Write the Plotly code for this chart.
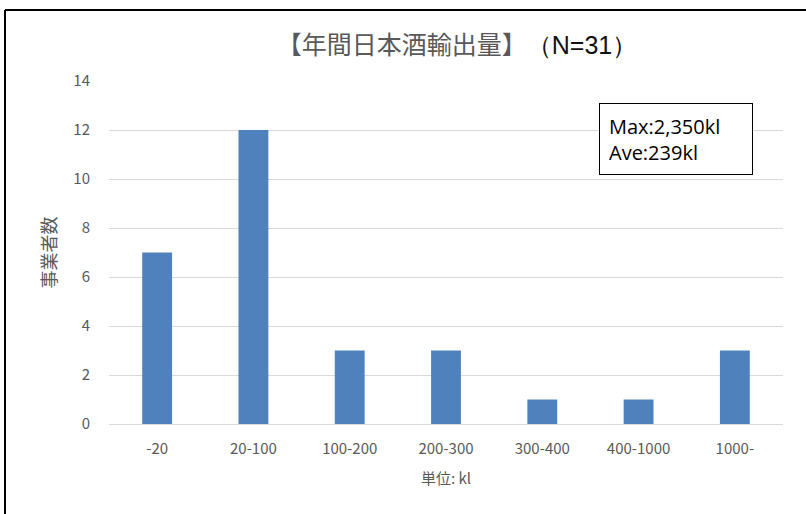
import plotly.graph_objects as go

# 出荷規模別の事業者数
categories = ["-20", "20-100", "100-200", "200-300", "300-400", "400-1000", "1000-"]
counts = [7, 12, 3, 3, 1, 1, 3]

y_ticks = [0, 2, 4, 6, 8, 10, 12, 14]

W, H = 806, 514
ML, MR, MT, MB = 109, 23, 81, 90
PW, PH = W - ML - MR, H - MT - MB

def px_x(x):
    return (x - ML) / PW

def px_y(y):
    return (H - MB - y) / PH

tick_font = dict(family="Noto Sans CJK JP, Noto Sans, sans-serif", size=15, color="#595959")

fig = go.Figure(
    go.Bar(
        x=categories,
        y=counts,
        marker=dict(color="#4F81BD", line=dict(width=0)),
        hoverinfo="x+y",
    )
)

fig.update_layout(
    width=W,
    height=H,
    margin=dict(l=ML, r=MR, t=MT, b=MB),
    paper_bgcolor="white",
    plot_bgcolor="white",
    bargap=0.69,
    showlegend=False,
    title=dict(
        text="<span style='color:#595959'>【年間日本酒輸出量】</span>"
             "<span style='font-family:Liberation Sans, Arial'>（N=31）</span>",
        xref="container",
        yref="container",
        x=457 / W,
        xanchor="center",
        y=1 - 45 / H,
        yanchor="middle",
        font=dict(family="Noto Sans CJK JP, sans-serif", size=25, color="#111111"),
    ),
    xaxis=dict(
        showgrid=False,
        showline=False,
        ticks="",
        ticklabelstandoff=14,
        tickfont=tick_font,
        title=dict(text="単位: kl", font=tick_font, standoff=16),
    ),
    yaxis=dict(
        range=[0, 14],
        tickvals=y_ticks,
        showgrid=True,
        gridcolor="#D9D9D9",
        gridwidth=1,
        zeroline=True,
        zerolinecolor="#D9D9D9",
        zerolinewidth=1,
        showline=False,
        ticks="",
        ticklabelstandoff=18,
        tickfont=tick_font,
        title=dict(
            text="事業者数",
            font=dict(family="Noto Sans CJK JP, sans-serif", size=18, color="#595959"),
            standoff=12,
        ),
    ),
    shapes=[
        # 外枠（上辺と左辺）
        dict(type="line", xref="paper", yref="paper",
             x0=px_x(5), x1=px_x(W + 5), y0=px_y(10), y1=px_y(10),
             line=dict(color="black", width=2)),
        dict(type="line", xref="paper", yref="paper",
             x0=px_x(5), x1=px_x(5), y0=px_y(10), y1=px_y(H + 5),
             line=dict(color="black", width=2)),
    ],
    annotations=[
        dict(
            text="Max:2,350kl<br>Ave:239kl",
            xref="paper", yref="paper",
            x=px_x(599), y=px_y(103),
            xanchor="left", yanchor="top",
            align="left",
            showarrow=False,
            font=dict(family="Open Sans, sans-serif", size=20, color="black"),
            bordercolor="black",
            borderwidth=1,
            borderpad=9,
            bgcolor="white",
            width=134,
            height=52,
        )
    ],
)

fig.write_html("out.html")
